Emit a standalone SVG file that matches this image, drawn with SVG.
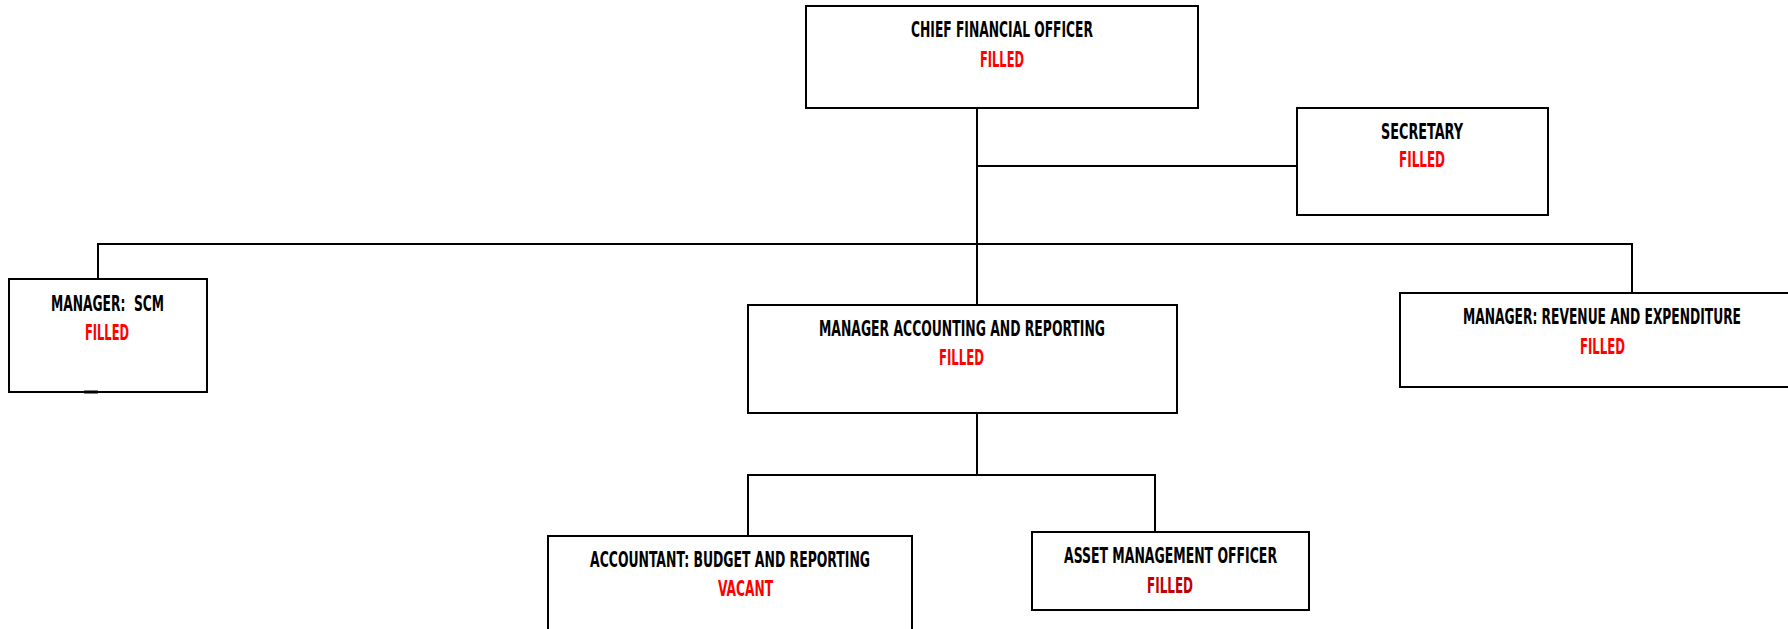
<svg xmlns="http://www.w3.org/2000/svg" width="1788" height="629" viewBox="0 0 1788 629">
<style>
.box{fill:#fff;stroke:#000;stroke-width:2}
.ln{stroke:#000;stroke-width:2;fill:none}
.t{font-family:"DejaVu Sans Condensed","DejaVu Sans","Liberation Sans",sans-serif;font-weight:bold;font-size:21px;fill:#000}
.r{fill:#ff0000}
.dr{fill:#c00000}
</style>
<rect width="1788" height="629" fill="#fff"/>
<g id="connectors">
<line class="ln" x1="977" y1="108" x2="977" y2="305"/>
<line class="ln" x1="977" y1="166" x2="1297" y2="166"/>
<line class="ln" x1="98" y1="244" x2="1632" y2="244"/>
<line class="ln" x1="98" y1="243" x2="98" y2="279"/>
<line class="ln" x1="1632" y1="243" x2="1632" y2="293"/>
<line class="ln" x1="977" y1="413" x2="977" y2="475"/>
<line class="ln" x1="748" y1="475" x2="1155" y2="475"/>
<line class="ln" x1="748" y1="474" x2="748" y2="536"/>
<line class="ln" x1="1155" y1="474" x2="1155" y2="537"/>
</g>
<g id="cfo">
<rect class="box" x="806" y="6" width="392" height="102"/>
<text class="t" x="911" y="37" textLength="182" lengthAdjust="spacingAndGlyphs">CHIEF FINANCIAL OFFICER</text>
<text class="t r" x="980" y="67" textLength="44" lengthAdjust="spacingAndGlyphs">FILLED</text>
</g>
<g id="secretary">
<rect class="box" x="1297" y="108" width="251" height="107"/>
<text class="t" x="1381" y="139" textLength="82" lengthAdjust="spacingAndGlyphs">SECRETARY</text>
<text class="t r" x="1399" y="167" textLength="46" lengthAdjust="spacingAndGlyphs">FILLED</text>
</g>
<g id="scm">
<rect class="box" x="9" y="279" width="198" height="113"/>
<line x1="84" y1="392" x2="98" y2="392" stroke="#000" stroke-width="3"/>
<text class="t" x="51" y="311" textLength="113" lengthAdjust="spacingAndGlyphs" xml:space="preserve">MANAGER:  SCM</text>
<text class="t r" x="85" y="340" textLength="44" lengthAdjust="spacingAndGlyphs">FILLED</text>
</g>
<g id="accounting">
<rect class="box" x="748" y="305" width="429" height="108"/>
<text class="t" x="819" y="336" textLength="286" lengthAdjust="spacingAndGlyphs">MANAGER ACCOUNTING AND REPORTING</text>
<text class="t r" x="939" y="365" textLength="45" lengthAdjust="spacingAndGlyphs">FILLED</text>
</g>
<g id="revenue">
<rect x="1400" y="293" width="388" height="94" fill="#fff"/>
<path class="ln" d="M1788 293 H1400 V387 H1788"/>
<text class="t" x="1463" y="324" textLength="278" lengthAdjust="spacingAndGlyphs">MANAGER: REVENUE AND EXPENDITURE</text>
<text class="t r" x="1580" y="354" textLength="45" lengthAdjust="spacingAndGlyphs">FILLED</text>
</g>
<g id="accountant">
<rect x="548" y="536" width="364" height="93" fill="#fff"/>
<path class="ln" d="M548 629 V536 H912 V629"/>
<text class="t" x="590" y="567" textLength="280" lengthAdjust="spacingAndGlyphs">ACCOUNTANT: BUDGET AND REPORTING</text>
<text class="t r" x="718" y="596" textLength="55" lengthAdjust="spacingAndGlyphs">VACANT</text>
</g>
<g id="asset">
<rect class="box" x="1032" y="532" width="277" height="78"/>
<text class="t" x="1064" y="563" textLength="213" lengthAdjust="spacingAndGlyphs">ASSET MANAGEMENT OFFICER</text>
<text class="t dr" x="1147" y="593" textLength="46" lengthAdjust="spacingAndGlyphs">FILLED</text>
</g>
</svg>
